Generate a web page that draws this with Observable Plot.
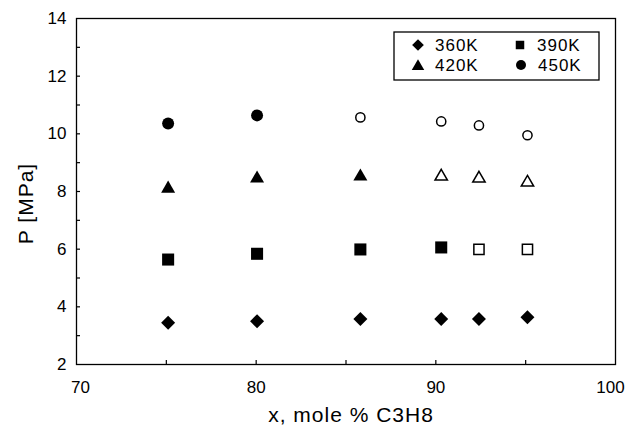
<!DOCTYPE html>
<html><head><meta charset="utf-8">
<script src="https://cdn.jsdelivr.net/npm/d3@7"></script>
<script src="https://cdn.jsdelivr.net/npm/@observablehq/plot@0.6"></script>
<style>
body{margin:0;background:#fff;}
#chart{position:relative;width:626px;height:426px;}
</style></head><body><div id="chart"></div>
<script>
// Data
const xMole = [75.1, 80.05, 85.8, 90.3, 92.4, 95.1];
const p360 = [3.45, 3.50, 3.58, 3.58, 3.58, 3.64];
const p390 = [5.64, 5.84, 5.99, 6.06, 5.99, 5.99];
const p420 = [8.17, 8.52, 8.59, 8.59, 8.52, 8.38];
const p450 = [10.36, 10.64, 10.57, 10.43, 10.29, 9.95];
// 1 = open (hollow) marker
const open360 = [0, 0, 0, 0, 0, 0];
const open390 = [0, 0, 0, 0, 1, 1];
const open420 = [0, 0, 0, 1, 1, 1];
const open450 = [0, 0, 1, 1, 1, 1];
const seriesNames = ["360K", "390K", "420K", "450K"];
const xTickLabelsMid = [80, 90];
const xTickLabelFirst = [70];
const xTickLabelLast = [100];
const xTickMarks = [75, 80, 85, 90, 95];
const yTickLabels = [2, 4, 6, 8, 10, 12, 14];
const yTickMarks = [3, 4, 5, 6, 7, 8, 9, 10, 11, 12, 13];
const xTitle = "x, mole % C3H8";
const yTitle = "P [MPa]";

const seriesP = [p360, p390, p420, p450];
const seriesOpen = [open360, open390, open420, open450];
const rows = [];
seriesNames.forEach((s, k) => xMole.forEach((x, i) => rows.push({series: s, x, p: seriesP[k][i], open: seriesOpen[k][i] === 1})));
const pick = (s, o) => rows.filter(d => d.series === s && d.open === o);

const font = "'Liberation Sans', Arial, Helvetica, sans-serif";
const xLab = {tickSize: 0, tickPadding: 16, label: null, fontSize: 17};

const chart = Plot.plot({
  width: 626, height: 426,
  marginLeft: 76, marginRight: 11, marginTop: 18, marginBottom: 62,
  style: {fontFamily: font, fontSize: "17px", color: "#000", background: "#fff"},
  x: {domain: [70, 100], label: null},
  y: {domain: [2, 14], label: null},
  marks: [
    Plot.frame({stroke: "#000", strokeWidth: 1.3}),
    Plot.axisX({ticks: xTickLabelsMid, ...xLab}),
    Plot.axisX({ticks: xTickLabelFirst, ...xLab, dx: 4}),
    Plot.axisX({ticks: xTickLabelLast, ...xLab, dx: -5}),
    Plot.axisY({ticks: yTickLabels, tickSize: 0, tickPadding: 10, label: null, fontSize: 17}),
    // inward tick marks
    Plot.ruleX(xTickMarks, {x: d => d, y1: 2, y2: 2, insetTop: -4, stroke: "#000", strokeWidth: 1.2}),
    Plot.ruleY(yTickMarks, {y: d => d, x1: 70, x2: 70, insetRight: -4, stroke: "#000", strokeWidth: 1.2}),
    // filled markers
    Plot.dot(pick("360K", false), {x: "x", y: "p", symbol: "diamond2", r: 6.3, fill: "#000", stroke: "none"}),
    Plot.dot(pick("390K", false), {x: "x", y: "p", symbol: "square", r: 6.8, fill: "#000", stroke: "none"}),
    Plot.dot(pick("420K", false), {x: "x", y: "p", symbol: "triangle", r: 5.2, fill: "#000", stroke: "none", dy: 2}),
    Plot.dot(pick("450K", false), {x: "x", y: "p", symbol: "circle", r: 6, fill: "#000", stroke: "none"}),
    // open markers
    Plot.dot(pick("390K", true), {x: "x", y: "p", symbol: "square", r: 5.75, fill: "#fff", stroke: "#000", strokeWidth: 1.5}),
    Plot.dot(pick("420K", true), {x: "x", y: "p", symbol: "triangle", r: 4.6, fill: "#fff", stroke: "#000", strokeWidth: 1.5, dy: 2}),
    Plot.dot(pick("450K", true), {x: "x", y: "p", symbol: "circle", r: 4.6, fill: "#fff", stroke: "#000", strokeWidth: 1.5}),
    // axis titles
    Plot.text([xTitle], {text: d => d, frameAnchor: "bottom", dy: 51, dx: 5, fontSize: 21, textAnchor: "middle", lineAnchor: "middle", fill: "#000"}),
    Plot.text([yTitle], {text: d => d, frameAnchor: "left", dx: -50, dy: 12, rotate: -90, fontSize: 21, textAnchor: "middle", lineAnchor: "middle", fill: "#000"})
  ]
});
document.getElementById("chart").appendChild(chart);

const svg = d3.select(chart);
svg.selectAll("text").filter(function() { return this.textContent === xTitle || this.textContent === yTitle; })
  .attr("letter-spacing", "1px");

// Legend box
const symMap = {"360K": [d3.symbolDiamond2, 11.7], "390K": [d3.symbolSquare, 8.5], "420K": [d3.symbolTriangle, 12.5], "450K": [d3.symbolCircle, 10]};
const lg = svg.append("g").attr("transform", "translate(394,32)");
lg.append("rect").attr("width", 205).attr("height", 48).attr("fill", "#fff").attr("stroke", "#000").attr("stroke-width", 1.3);
const pos = [[24, 13], [126, 13], [24, 33], [127, 33]];
seriesNames.forEach((s, i) => {
  const [sym, w] = symMap[s];
  let size;
  if (sym === d3.symbolDiamond2) size = Math.pow(w / 1.2525, 2);
  else if (sym === d3.symbolSquare) size = w * w;
  else if (sym === d3.symbolTriangle) size = Math.pow(w / 3.464, 2) * 5.196;
  else size = Math.PI * (w / 2) * (w / 2);
  const [cx, cy] = pos[i];
  const dyy = sym === d3.symbolTriangle ? 1.5 : 0;
  lg.append("path").attr("d", d3.symbol(sym, size)()).attr("transform", `translate(${cx},${cy + dyy})`).attr("fill", "#000");
  lg.append("text").attr("x", cx + 17).attr("y", cy).attr("dy", "0.35em").attr("text-anchor", "start")
    .attr("font-size", 17).attr("letter-spacing", "1px").attr("fill", "#000").text(s);
});
</script></body></html>
